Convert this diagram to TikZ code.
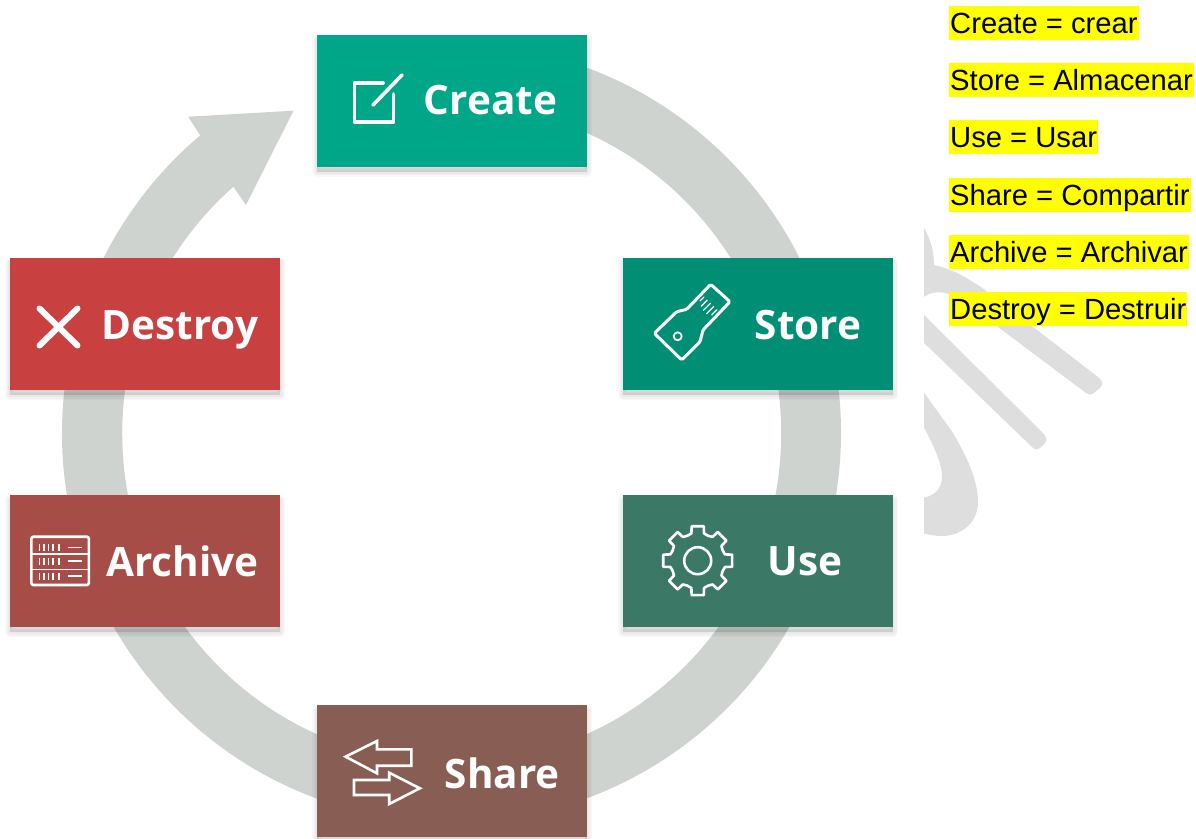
\documentclass[tikz,border=0pt]{standalone}
\usepackage{fontspec}
\usepackage{tikz}
\usetikzlibrary{shadows}
\setmainfont{Liberation Sans}
\newfontfamily\stagefont{Open Sans}[BoldFont={Open Sans Bold}]
\definecolor{ringgray}{HTML}{CFD3CF}
\definecolor{glyphgray}{HTML}{DEDEDE}
\definecolor{wordyellow}{RGB}{255,255,0}
\definecolor{createcol}{HTML}{00A688}
\definecolor{storecol}{HTML}{008E74}
\definecolor{usecol}{HTML}{3C7866}
\definecolor{sharecol}{HTML}{885E54}
\definecolor{archivecol}{HTML}{A64D47}
\definecolor{destroycol}{HTML}{C84040}
\tikzset{
  softlayer/.style={general shadow={shadow xshift=0pt,shadow yshift=-5pt,fill=none,draw=black,line join=round,line width=#1,opacity=.028}},
  stagebox/.style={minimum width=270pt,minimum height=132pt,inner sep=0pt,
    softlayer=10pt,softlayer=7pt,softlayer=4pt,
    general shadow={shadow xshift=0pt,shadow yshift=-5pt,fill=black,opacity=.12}},
  stagelabel/.style={anchor=base west,inner sep=0pt,text=white,font=\stagefont\bfseries\fontsize{40.5}{44}\selectfont},
  wordline/.style={anchor=west,fill=wordyellow,inner xsep=1pt,inner ysep=0pt,minimum height=34pt,text height=24pt,text depth=4pt,font=\fontsize{29.2}{34}\selectfont},
  iconline/.style={draw=white,line width=2.6pt,line join=round,line cap=round},
}
\begin{document}
\begin{tikzpicture}[x=1pt,y=1pt]
  \useasboundingbox (0,0) rectangle (1196,-838);
  % ring with its arrow head
  \fill[ringgray,shift={(451.5,-433)}] (85:389.5) arc[start angle=85,end angle=-229.8,radius=389.5pt]
    -- (-263.2,316.3) -- (-158,322.3) -- (-205.5,228) -- (-218.1,246.3)
    arc[start angle=-228.5,end angle=85,radius=329.5pt] -- cycle;
  % grey shape behind the word list
  \begin{scope}
    \clip (924,-200) rectangle (1196,-560);
    \fill[glyphgray] (924,-228) .. controls (931,-240) and (934,-252) .. (934,-265)
      .. controls (950,-268) and (968,-278) .. (985,-290) -- (1098,-377)
      .. controls (1103,-381) and (1103,-385) .. (1100,-388) -- (1095,-392)
      .. controls (1092,-395) and (1089,-395) .. (1086,-393) -- (998,-327)
      -- (957,-298) .. controls (945,-291) and (932,-289) .. (920,-300) -- cycle;
    \fill[glyphgray] (920,-311) -- (1042,-432)
      .. controls (1047,-437) and (1047,-440) .. (1045,-443) -- (1041,-447)
      .. controls (1038,-450) and (1035,-450) .. (1032,-447) -- (920,-339) -- cycle;
    \fill[glyphgray] (920,-387) -- (953,-433) .. controls (968,-458) and (978,-482) .. (978,-502)
      .. controls (978,-522) and (962,-536) .. (942,-536)
      .. controls (935,-536) and (928,-535) .. (920,-532) -- (920,-498)
      .. controls (935,-497) and (942,-488) .. (942,-477)
      .. controls (942,-462) and (932,-442) .. (920,-420) -- cycle;
  \end{scope}
  % stages
  \node[stagebox,fill=createcol] (create) at (452,-100.5) {};
  \node[stagebox,fill=storecol] (store) at (758,-324) {};
  \node[stagebox,fill=usecol] (use) at (758,-561) {};
  \node[stagebox,fill=sharecol] (share) at (452,-771) {};
  \node[stagebox,fill=archivecol] (archive) at (145,-561) {};
  \node[stagebox,fill=destroycol] (destroy) at (145,-324) {};
  \node[stagelabel] (createlabel) at (423.5,-114) {Create};
  \node[stagelabel] (storelabel) at (754.5,-339) {Store};
  \node[stagelabel] (uselabel) at (767.5,-575) {Use};
  \node[stagelabel] (sharelabel) at (444.5,-788) {Share};
  \node[stagelabel] (archivelabel) at (106,-576) {Archive};
  \node[stagelabel] (destroylabel) at (101.5,-339) {Destroy};
  % create icon
  \draw[iconline,line width=3.6pt] (383,-83) -- (354.5,-83) -- (354.5,-122) -- (393.5,-122) -- (393.5,-94);
  \draw[iconline,line width=3.6pt] (373,-105) -- (402,-75);
  % store icon
  \draw[iconline,line width=3pt,rounded corners=1.5pt] (710.7,-284.3) -- (730,-301.7) -- (703,-330) -- (700,-341.7) -- (681.7,-360)
    -- (654.3,-333.3) -- (676.7,-311.7) -- (686.7,-309.3) -- cycle;
  \draw[iconline,line width=1.8pt] (677.7,-336.3) circle (4);
  \foreach \i/\len in {0/4,1/6,2/7,3/7,4/5} {
    \draw[iconline,line width=1.3pt] (704+3.2*\i,-297-3.2*\i) -- ++(-\len,-\len);
  }
  % use icon
  \draw[iconline] (697.7,-560.7) circle (13.5);
  \foreach \a in {0,45,...,315} {
    \draw[iconline,shift={(697.7,-560.7)}] (\a-22.5:27) -- (\a-13:28) -- (\a-10:35) -- (\a+10:35) -- (\a+13:28) -- (\a+22.5:27);
  }
  % share icon
  \draw[iconline,line cap=butt,line join=miter] (345.6,-756.7) -- (377,-741) -- (377,-749.3) -- (411.4,-749.3) -- (411.4,-765.7) -- (377,-765.7) -- (377,-773.3) -- cycle;
  \draw[iconline,line cap=butt,line join=miter] (354,-780) -- (389.2,-780) -- (389.2,-772.7) -- (419.8,-788.3) -- (389.2,-804) -- (389.2,-795) -- (354,-795) -- cycle;
  % archive icon
  \draw[iconline,rounded corners=2pt] (31.4,-536.7) rectangle (88.8,-585);
  \draw[iconline,line width=1.6pt] (31.4,-554) -- (88.8,-554);
  \draw[iconline,line width=1.6pt] (31.4,-569.3) -- (88.8,-569.3);
  \foreach \y in {-547.3,-561,-576} {
    \foreach \x in {39.5,44,48.5,53,59} {
      \draw[iconline,line width=1.2pt,line cap=butt] (\x,\y+3.5) -- (\x,\y-3.5);
    }
    \draw[iconline,line width=1.4pt,line cap=butt] (67.7,\y) -- (81.5,\y);
  }
  % destroy icon
  \draw[iconline,line width=6pt] (39.5,-308.5) -- (77.5,-345.5);
  \draw[iconline,line width=6pt] (77.5,-308.5) -- (39.5,-345.5);
  % word list
  \node[wordline] (wordcreate) at (949,-23) {Create = crear};
  \node[wordline] (wordstore) at (949,-80) {Store = Almacenar};
  \node[wordline] (worduse) at (949,-137) {Use = Usar};
  \node[wordline] (wordshare) at (949,-195) {Share = Compartir};
  \node[wordline] (wordarchive) at (949,-252) {Archive = Archivar};
  \node[wordline] (worddestroy) at (949,-309) {Destroy = Destruir};
\end{tikzpicture}
\end{document}
